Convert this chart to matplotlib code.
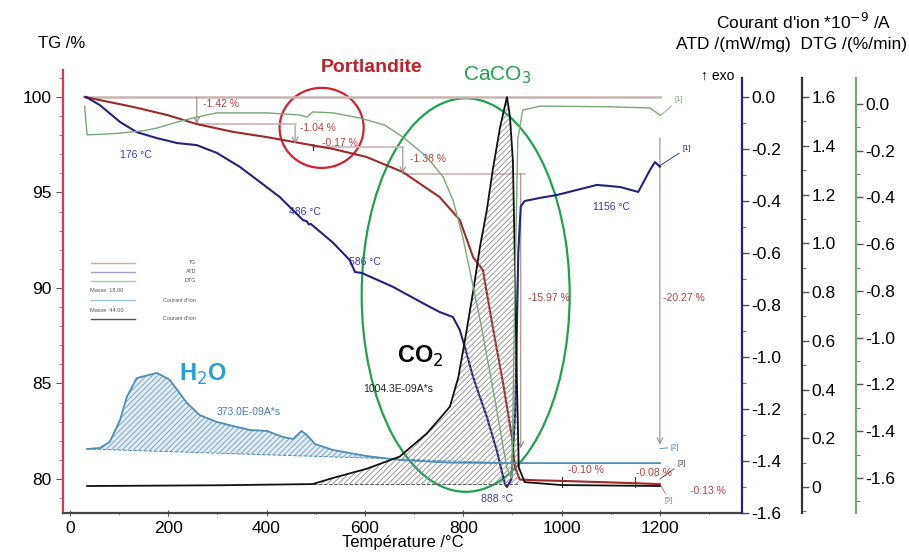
import matplotlib
matplotlib.use('Agg')
import matplotlib.pyplot as plt
from matplotlib.patches import Ellipse, Polygon
from matplotlib.ticker import MultipleLocator, FixedLocator, FixedFormatter

plt.rcParams['font.family'] = ['Liberation Sans', 'DejaVu Sans']
plt.rcParams['axes.unicode_minus'] = False
plt.rcParams['hatch.linewidth'] = 0.6

# TG curve (%)
tg_temp = [30, 128, 197, 258, 332, 400, 454, 535, 603, 677, 752, 793, 820, 840,
           860, 881, 899, 905, 915, 950, 1000, 1100, 1150, 1200]
tg_mass = [100.0, 99.48, 99.06, 98.58, 98.17, 97.9, 97.65, 97.28, 96.86, 96.07,
           94.76, 93.56, 91.62, 90.94, 87.96, 85.03, 82.2, 80.63, 79.97, 79.93,
           79.9, 79.82, 79.78, 79.73]

# ATD curve (mW/mg)
atd_temp = [33, 61, 102, 136, 177, 218, 258, 299, 346, 400, 427, 474, 482, 486,
            490, 535, 569, 580, 594, 657, 718, 752, 779, 793, 803, 820, 848, 868,
            885, 889, 898, 906, 912, 917, 925, 956, 990, 1072, 1119, 1156, 1180,
            1190, 1200]
atd_val = [0.0, -0.031, -0.096, -0.135, -0.158, -0.177, -0.185, -0.215, -0.269,
           -0.346, -0.385, -0.473, -0.478, -0.49, -0.488, -0.56, -0.627, -0.673,
           -0.677, -0.73, -0.793, -0.827, -0.846, -0.896, -0.96, -1.077, -1.23,
           -1.358, -1.49, -1.5, -1.47, -1.2, -0.6, -0.42, -0.40, -0.388, -0.377,
           -0.338, -0.346, -0.365, -0.28, -0.25, -0.268]

# DTG curve (%/min)
dtg_temp = [30, 35, 60, 100, 148, 177, 218, 258, 299, 401, 468, 482, 494, 535,
            590, 640, 677, 726, 759, 779, 799, 834, 864, 889, 899, 905, 911, 921,
            956, 1100, 1180, 1200]
dtg_val = [-0.01, -0.132, -0.13, -0.125, -0.115, -0.103, -0.077, -0.056, -0.038,
           -0.038, -0.047, -0.056, -0.034, -0.038, -0.06, -0.09, -0.141, -0.226,
           -0.312, -0.41, -0.568, -0.92, -1.26, -1.56, -1.6, -0.8, -0.15, -0.026,
           -0.009, -0.012, -0.017, -0.047]

# ion current, mass 18 (H2O)
h2o_temp = [35, 61, 81, 102, 116, 136, 177, 203, 238, 264, 299, 332, 366, 401,
            433, 454, 471, 482, 499, 535, 603, 671, 773, 900, 1000, 1200]
h2o_val = [0.156, 0.16, 0.185, 0.275, 0.37, 0.447, 0.468, 0.44, 0.345, 0.295,
           0.267, 0.25, 0.234, 0.23, 0.205, 0.197, 0.23, 0.213, 0.176, 0.152,
           0.127, 0.111, 0.10, 0.098, 0.098, 0.098]
h2o_base_temp = [35, 650]
h2o_base_val = [0.156, 0.116]

# ion current, mass 44 (CO2)
co2_temp = [35, 300, 494, 535, 604, 671, 726, 752, 773, 790, 805, 820, 834, 848,
            860, 875, 889, 895, 901, 905, 909, 913, 925, 1000, 1200]
co2_val = [0.004, 0.007, 0.012, 0.037, 0.075, 0.125, 0.22, 0.28, 0.33, 0.45,
           0.62, 0.8, 0.985, 1.136, 1.3, 1.477, 1.6, 1.52, 1.34, 0.93, 0.45,
           0.08, 0.02, 0.008, 0.004]
co2_base_temp = [494, 913]
co2_base_val = [0.012, 0.012]

# mass-loss steps and peak temperatures: (text, x, y in TG units)
step_labels = [('-1.42 %', 270, 99.63), ('-1.04 %', 468, 98.38),
               ('-0.17 %', 512, 97.6), ('-1.38 %', 691, 96.75),
               ('-15.97 %', 931, 89.5), ('-20.27 %', 1206, 89.5),
               ('-0.10 %', 1013, 80.47), ('-0.08 %', 1151, 80.3),
               ('-0.13 %', 1261, 79.37)]
peak_labels = [('176 °C', 134, 96.96), ('486 °C', 478, 93.98),
               ('586 °C', 600, 91.36), ('888 °C', 868, 78.95),
               ('1156 °C', 1102, 94.24)]

atd_ticks = [0.0, -0.2, -0.4, -0.6, -0.8, -1.0, -1.2, -1.4, -1.6]
ion_ticks = [0, 0.2, 0.4, 0.6, 0.8, 1.0, 1.2, 1.4, 1.6]
ion_labels = ['0', '0.2', '0.4', '0.6', '0.8', '1.0', '1.2', '1.4', '1.6']
dtg_ticks = [0.0, -0.2, -0.4, -0.6, -0.8, -1.0, -1.2, -1.4, -1.6]

C_TG = '#9c2a2a'
C_ATD = '#23237a'
C_DTG = '#7aa878'
C_H2O = '#4f8db3'
C_STEP = '#c9b3b3'
W, H = 909, 553
TICK_SIZE = 12.5


def fx(px):
    return px / W


def fy(py):
    return 1 - py / H


def setup_right(axis, pos, color, lim, bounds, ticks, labels=None):
    axis.set_ylim(*lim)
    for s in ['left', 'top', 'bottom']:
        axis.spines[s].set_visible(False)
    axis.spines['right'].set_position(('axes', pos))
    axis.spines['right'].set_color(color)
    axis.spines['right'].set_linewidth(1.6)
    axis.spines['right'].set_bounds(*bounds)
    axis.yaxis.set_major_locator(FixedLocator(ticks))
    if labels is None:
        labels = ['{:.1f}'.format(t) for t in ticks]
    axis.yaxis.set_major_formatter(FixedFormatter(labels))
    # minor ticks only between the major ones, plus one below
    lo, hi = min(ticks), max(ticks)
    minors = [lo - 0.1] + [lo + 0.1 + 0.2 * i for i in range(len(ticks) - 1)]
    axis.yaxis.set_minor_locator(FixedLocator([m for m in minors if m >= bounds[0]]))
    axis.tick_params(axis='y', which='major', length=5, width=1, color='#555555',
                     labelsize=TICK_SIZE, pad=2)
    axis.tick_params(axis='y', which='minor', length=3, width=0.8, color='#777777')


fig = plt.figure(figsize=(9.09, 5.53), dpi=100)
ax = fig.add_axes([fx(63), fy(513), fx(742 - 63), (513 - 70) / H])
ax.set_xlim(-14, 1367)
ax.set_ylim(78.22, 101.41)
ax.spines['top'].set_visible(False)
ax.spines['right'].set_visible(False)
ax.spines['left'].set_color('#d23c5a')
ax.spines['left'].set_linewidth(1.6)
ax.spines['bottom'].set_color('#444444')
ax.spines['bottom'].set_linewidth(1.6)
ax.set_xticks([0, 200, 400, 600, 800, 1000, 1200])
ax.xaxis.set_minor_locator(MultipleLocator(100))
ax.set_yticks([80, 85, 90, 95, 100])
ax.yaxis.set_minor_locator(MultipleLocator(1))
ax.tick_params(axis='both', which='major', labelsize=TICK_SIZE, length=5,
               color='#555555')
ax.tick_params(axis='x', which='both', direction='inout')
ax.tick_params(axis='y', which='minor', length=3, color='#777777')

ax_atd = ax.twinx()
ax_ion = ax.twinx()
ax_dtg = ax.twinx()
setup_right(ax_atd, 1.0, C_ATD, (-1.6, 0.104), (-1.6, 0.073), atd_ticks)
setup_right(ax_ion, (802 - 63) / 679, '#333333', (-0.1067, 1.711), (-0.1067, 1.678),
            ion_ticks, ion_labels)
setup_right(ax_dtg, (856 - 63) / 679, C_DTG, (-1.75, 0.1455), (-1.75, 0.111), dtg_ticks)

# reference lines of the mass-loss steps
ax.plot([30, 1200], [100, 100], color=C_STEP, lw=1.8)
ax.plot([258, 460], [98.58, 98.58], color=C_STEP, lw=1.2)
ax.plot([494, 677], [97.37, 97.37], color=C_STEP, lw=1.2)
ax.plot([677, 925], [95.99, 95.99], color=C_STEP, lw=1.2)
for x0, y0, y1 in [(258, 100, 98.58), (458, 98.5, 97.54), (677, 97.37, 95.99),
                   (917, 95.99, 81.6), (1200, 97.85, 81.8)]:
    ax.annotate('', xy=(x0, y1), xytext=(x0, y0),
                arrowprops=dict(arrowstyle='->', color='#9a8a8a', lw=0.8,
                                shrinkA=0, shrinkB=0))
ax.plot([494, 494], [97.2, 97.55], color='#333333', lw=0.8)
for x0 in [1000, 1150]:
    ax.plot([x0, x0], [79.6, 80.1], color='#333333', lw=0.8)

# hatched areas under the ion currents
h2o_pts = [(t, v) for t, v in zip(h2o_temp, h2o_val) if t <= h2o_base_temp[1]]
h2o_poly = h2o_pts + [(h2o_base_temp[1], h2o_base_val[1]),
                      (h2o_base_temp[0], h2o_base_val[0])]
ax_ion.add_patch(Polygon(h2o_poly, closed=True, facecolor='#dcedf6',
                         edgecolor='#8a9aa8', hatch='//////', lw=0))
co2_pts = [(t, v) for t, v in zip(co2_temp, co2_val)
           if co2_base_temp[0] <= t <= co2_base_temp[1]]
co2_poly = co2_pts + [(co2_base_temp[1], co2_base_val[1]),
                      (co2_base_temp[0], co2_base_val[0])]
ax_ion.add_patch(Polygon(co2_poly, closed=True, facecolor='none',
                         edgecolor='#8a8a8a', hatch='//////', lw=0))
ax_ion.plot(h2o_base_temp + [900], h2o_base_val + [0.098], color=C_H2O, lw=0.7,
            ls='--')
ax_ion.plot(co2_base_temp, co2_base_val, color='#555555', lw=0.7, ls='--')

# curves
ax.plot(tg_temp, tg_mass, color=C_TG, lw=1.5)
ax_atd.plot(atd_temp, atd_val, color=C_ATD, lw=1.5)
ax_dtg.plot(dtg_temp, dtg_val, color=C_DTG, lw=1.0)
ax_ion.plot(h2o_temp, h2o_val, color=C_H2O, lw=1.3)
ax_ion.plot(co2_temp, co2_val, color='#111111', lw=1.3)

# texts on the plot
for txt, x0, y0 in step_labels:
    ax.text(x0, y0, txt, color='#b04040', fontsize=7.5, va='center', ha='left')
for txt, x0, y0 in peak_labels:
    ax.text(x0, y0, txt, color='#3a3aa0', fontsize=7.5, va='center', ha='center')
ax.text(299, 83.5, '373.0E-09A*s', color='#4a7aa8', fontsize=7.5, va='center')
ax.text(596, 84.7, '1004.3E-09A*s', color='#222222', fontsize=7.5, va='center')
ax.text(270, 85.45, 'H$_2$O', color='#22a0d8', fontsize=17, fontweight='bold',
        ha='center', va='center')
ax.text(712, 86.4, 'CO$_2$', color='black', fontsize=17, fontweight='bold',
        ha='center', va='center')
ax.add_patch(Ellipse((512, 98.38), 171, 4.19, fill=False, edgecolor='#d42030',
                     lw=1.6, clip_on=False))
ax.add_patch(Ellipse((805, 89.63), 423, 20.6, fill=False, edgecolor='#20a050',
                     lw=1.6, clip_on=False))

# bracket labels [1], [2] ...
for txt, xy, xytext, col in [('[1]', (1200, 99.0), (1230, 99.85), C_DTG),
                             ('[1]', (1200, 96.4), (1245, 97.3), C_ATD),
                             ('[2]', (1200, 81.6), (1222, 81.65), C_H2O),
                             ('[3]', (1200, 80.0), (1235, 80.8), '#444444'),
                             ('[5]', (1200, 79.75), (1210, 78.9), '#b07070')]:
    ax.annotate(txt, xy=xy, xytext=xytext, color=col, fontsize=5.5, va='center',
                arrowprops=dict(arrowstyle='-', color=col, lw=0.6,
                                shrinkA=0, shrinkB=0))

# titles and labels outside the axes
fig.text(fx(62), fy(43), 'TG /%', fontsize=12, ha='center', va='center')
fig.text(fx(372), fy(68), 'Portlandite', color='#c0202a', fontsize=14,
         fontweight='bold', ha='center', va='center')
fig.text(fx(497), fy(75), 'CaCO$_3$', color='#20a050', fontsize=15,
         ha='center', va='center')
fig.text(fx(804), fy(22), "Courant d'ion *10$^{-9}$ /A", fontsize=12.5,
         ha='center', va='center')
fig.text(fx(792), fy(44), 'ATD /(mW/mg)  DTG /(%/min)', fontsize=12.5,
         ha='center', va='center')
fig.text(fx(718), fy(76), '↑ exo', fontsize=10, ha='center', va='center')
fig.text(fx(403), fy(543), 'Température /°C', fontsize=12, ha='center', va='center')

# small legend box
leg = [(263, '#e0a0a0', 'TG'), (272, '#a0a0c8', 'ATD'), (281, '#a8c8a8', 'DTG'),
       (300, '#9cc4dc', "Courant d'ion"), (319, '#555555', "Courant d'ion")]
for py, col, name in leg:
    fig.add_artist(plt.Line2D([fx(91), fx(135)], [fy(py), fy(py)], color=col, lw=1))
    fig.text(fx(196), fy(py), name, fontsize=4, ha='right', va='center',
             color='#555555')
fig.text(fx(90), fy(291), 'Masse  18.00', fontsize=4, va='center', color='#555555')
fig.text(fx(90), fy(310), 'Masse  44.00', fontsize=4, va='center', color='#555555')

plt.savefig('out.png', dpi=100)
